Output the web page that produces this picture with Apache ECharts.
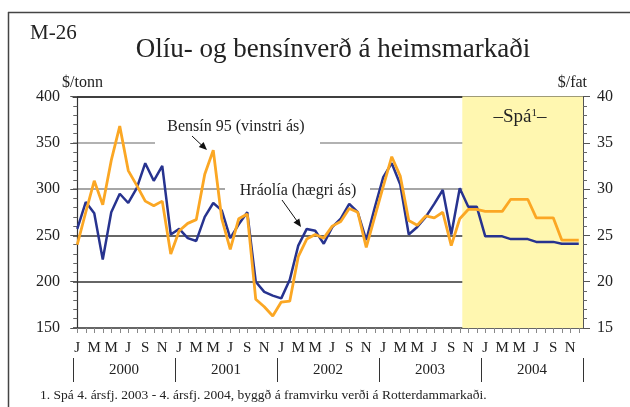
<!DOCTYPE html>
<html>
<head>
<meta charset="utf-8">
<script src="https://cdn.jsdelivr.net/npm/echarts@6/dist/echarts.min.js"></script>
<style>
  html, body { margin: 0; padding: 0; background: #fff; }
  #chart { width: 630px; height: 407px; }
</style>
</head>
<body>
<div id="chart"></div>
<script>
// Month letters shown on the x axis, and years below them
const monthLetters = ['J', 'F', 'M', 'A', 'M', 'J', 'J', 'A', 'S', 'O', 'N', 'D']
const years = ['2000', '2001', '2002', '2003', '2004']

// Bensín 95, $/tonn (left axis), Jan 2000 - Dec 2004
const bensin = [
  240, 275, 309, 283, 331, 368, 320, 304, 287, 282, 287, 230,
  255, 263, 267, 316, 342, 268, 235, 268, 273, 181, 173, 163,
  178, 179, 227, 246, 251, 247, 260, 265, 279, 275, 237, 270,
  303, 335, 314, 266, 261, 271, 269, 275, 239, 268, 278, 278,
  276, 276, 276, 289, 289, 289, 269, 269, 269, 245, 245, 245
]

// Hráolía, $/fat (right axis)
const hraolia = [
  25.7, 28.6, 27.4, 22.4, 27.5, 29.5, 28.5, 30.1, 32.8, 30.9, 32.5, 25.1,
  25.7, 24.7, 24.4, 27.0, 28.5, 27.7, 24.7, 26.2, 27.5, 20.0, 18.9, 18.5,
  18.2, 20.2, 23.9, 25.7, 25.5, 24.1, 25.9, 26.8, 28.4, 27.5, 24.5, 28.0,
  31.3, 32.8, 30.5, 25.1, 25.9, 27.0, 28.4, 29.9, 25.1, 30.1, 28.1, 28.1,
  24.9, 24.9, 24.9, 24.6, 24.6, 24.6, 24.3, 24.3, 24.3, 24.1, 24.1, 24.1
]

// Forecast period (in month index units) for the shaded area
const forecastStart = 45.3
const forecastEnd = 59.5

// Build category labels: one per month
const months = []
years.forEach(y => monthLetters.forEach((m, i) => months.push(y + '-' + (i + 1))))

const serif = '"Liberation Serif", "DejaVu Serif", serif'
const textColor = '#222'

const chart = echarts.init(document.getElementById('chart'))

const option = {
  animation: false,
  backgroundColor: '#fff',
  grid: {
    left: 73,
    top: 96.5,
    width: 510,
    height: 231.5
  },
  xAxis: [
    {
      type: 'category',
      data: months,
      position: 'bottom',
      boundaryGap: true,
      axisLine: { lineStyle: { color: '#666', width: 1 } },
      axisTick: {
        show: true,
        interval: 0,
        alignWithLabel: true,
        length: 5,
        lineStyle: { color: '#888' }
      },
      axisLabel: {
        interval: 1,
        margin: 13,
        fontFamily: serif,
        fontSize: 15,
        color: textColor,
        formatter: v => monthLetters[Number(v.split('-')[1]) - 1]
      },
      splitLine: { show: false }
    },
    {
      // year row with separators
      type: 'category',
      data: years,
      position: 'bottom',
      offset: 30,
      boundaryGap: true,
      axisLine: { show: false },
      axisTick: {
        show: true,
        interval: 0,
        length: 24,
        lineStyle: { color: '#333' }
      },
      axisLabel: {
        margin: 5,
        fontFamily: serif,
        fontSize: 15,
        color: textColor
      },
      splitLine: { show: false }
    },
    {
      // hidden value axis for shading, draws top border
      type: 'value',
      position: 'top',
      min: -0.5,
      max: 59.5,
      axisLine: { show: true, onZero: false, lineStyle: { color: '#333', width: 1.5 } },
      axisTick: { show: false },
      axisLabel: { show: false },
      splitLine: { show: false }
    }
  ],
  yAxis: [
    {
      type: 'value',
      position: 'left',
      min: 150,
      max: 400,
      interval: 50,
      axisLine: { show: true, lineStyle: { color: '#333', width: 1.2 } },
      axisTick: { show: true, length: 7, lineStyle: { color: '#555' } },
      minorTick: { show: true, splitNumber: 5, length: 4, lineStyle: { color: '#666' } },
      axisLabel: {
        margin: 13,
        fontFamily: serif,
        fontSize: 16,
        color: textColor
      },
      splitLine: {
        show: true,
        lineStyle: {
          color: ['#333', '#333', '#333', '#888', '#999', '#333'],
          width: 1.5
        }
      }
    },
    {
      type: 'value',
      position: 'right',
      min: 15,
      max: 40,
      interval: 5,
      axisLine: { show: true, lineStyle: { color: '#555', width: 1 } },
      axisTick: { show: true, length: 7, lineStyle: { color: '#555' } },
      minorTick: { show: true, splitNumber: 5, length: 4, lineStyle: { color: '#666' } },
      axisLabel: {
        margin: 14,
        fontFamily: serif,
        fontSize: 16,
        color: textColor
      },
      splitLine: { show: false }
    }
  ],
  series: [
    {
      name: 'Spá',
      type: 'line',
      xAxisIndex: 2,
      yAxisIndex: 0,
      data: [],
      silent: true,
      markArea: {
        silent: true,
        itemStyle: { color: '#FFF7B0' },
        data: [[{ xAxis: forecastStart }, { xAxis: forecastEnd }]]
      }
    },
    {
      name: 'Hráolía (hægri ás)',
      type: 'line',
      xAxisIndex: 0,
      yAxisIndex: 1,
      data: hraolia,
      symbol: 'none',
      lineStyle: { color: '#27338F', width: 2.5 },
      itemStyle: { color: '#27338F' }
    },
    {
      name: 'Bensín 95 (vinstri ás)',
      type: 'line',
      xAxisIndex: 0,
      yAxisIndex: 0,
      data: bensin,
      symbol: 'none',
      lineStyle: { color: '#FBA724', width: 2.8 },
      itemStyle: { color: '#FBA724' }
    }
  ],
  graphic: [
    // frame
    { type: 'line', shape: { x1: 8.5, y1: 12, x2: 8.5, y2: 407 }, style: { stroke: '#444', lineWidth: 1.5 } },
    { type: 'line', shape: { x1: 8, y1: 12.5, x2: 630, y2: 12.5 }, style: { stroke: '#444', lineWidth: 1.5 } },
    // titles
    { type: 'text', x: 30, y: 33, style: { text: 'M-26', font: '21px ' + serif, fill: textColor, verticalAlign: 'middle' } },
    { type: 'text', x: 333, y: 50, style: { text: 'Olíu- og bensínverð á heimsmarkaði', font: '27px ' + serif, fill: textColor, align: 'center', verticalAlign: 'middle' } },
    { type: 'text', x: 62, y: 83, style: { text: '$/tonn', font: '16px ' + serif, fill: textColor, verticalAlign: 'middle' } },
    { type: 'text', x: 587, y: 83, style: { text: '$/fat', font: '16px ' + serif, fill: textColor, align: 'right', verticalAlign: 'middle' } },
    // white boxes behind series labels (they interrupt the grid lines)
    { type: 'rect', z: 1, shape: { x: 155, y: 110, width: 165, height: 37 }, style: { fill: '#fff' } },
    { type: 'rect', z: 1, shape: { x: 225, y: 179, width: 145, height: 19 }, style: { fill: '#fff' } },
    { type: 'text', z: 5, x: 236, y: 127, style: { text: 'Bensín 95 (vinstri ás)', font: '16px ' + serif, fill: textColor, align: 'center', verticalAlign: 'middle' } },
    { type: 'text', z: 5, x: 298, y: 191, style: { text: 'Hráolía (hægri ás)', font: '16px ' + serif, fill: textColor, align: 'center', verticalAlign: 'middle' } },
    // arrows
    { type: 'line', z: 5, shape: { x1: 192, y1: 136, x2: 202, y2: 145.5 }, style: { stroke: '#111', lineWidth: 1 } },
    { type: 'polygon', z: 5, shape: { points: [[207, 150], [198.8, 147.1], [203.6, 141.9]] }, style: { fill: '#111' } },
    { type: 'line', z: 5, shape: { x1: 282, y1: 200, x2: 297, y2: 221 }, style: { stroke: '#111', lineWidth: 1 } },
    { type: 'polygon', z: 5, shape: { points: [[301, 227], [293.5, 222.5], [299.3, 218.5]] }, style: { fill: '#111' } },
    // forecast label
    {
      type: 'text', z: 5, x: 520, y: 117,
      style: {
        text: '{a|–Spá}{s|1}{a|–}',
        align: 'center',
        verticalAlign: 'middle',
        rich: {
          a: { font: '19px ' + serif, fill: textColor, color: textColor },
          s: { font: '11px ' + serif, fill: textColor, color: textColor, verticalAlign: 'top', padding: [0, 0, 8, 0] }
        }
      }
    },
    // footnote
    { type: 'text', x: 40, y: 395, style: { text: '1. Spá 4. ársfj. 2003 - 4. ársfj. 2004, byggð á framvirku verði á Rotterdammarkaði.', font: '13.5px ' + serif, fill: textColor, verticalAlign: 'middle' } }
  ]
}

chart.setOption(option)
</script>
</body>
</html>
